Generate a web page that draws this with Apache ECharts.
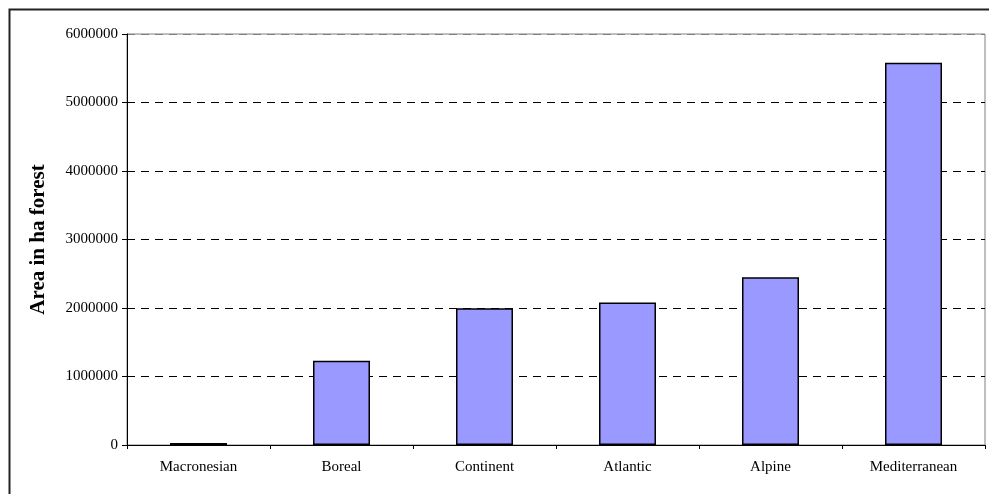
<!DOCTYPE html>
<html>
<head>
<meta charset="utf-8">
<script src="https://cdn.jsdelivr.net/npm/echarts@6/dist/echarts.min.js"></script>
<style>html,body{margin:0;padding:0;background:#fff;}#c{width:989px;height:494px;}</style>
</head>
<body>
<div id="c"></div>
<script>
var categories = ['Macronesian', 'Boreal', 'Continent', 'Atlantic', 'Alpine', 'Mediterranean'];
var areaValues = [28000, 1230000, 1995000, 2080000, 2450000, 5580000];
var yTicks = [0, 1000000, 2000000, 3000000, 4000000, 5000000, 6000000];

var chart = echarts.init(document.getElementById('c'));
var serif = '"Liberation Serif", "Times New Roman", serif';
chart.setOption({
  animation: false,
  backgroundColor: '#fff',
  graphic: [{
    type: 'rect', left: 7, top: 7, z: -10, silent: true,
    shape: { width: 1100, height: 600 },
    style: { fill: 'none', stroke: '#222', lineWidth: 2 }
  }],
  grid: { left: 127, right: 4, top: 34, bottom: 49, show: true, borderColor: '#808080', borderWidth: 1, backgroundColor: '#fff' },
  xAxis: {
    type: 'category',
    data: categories,
    boundaryGap: true,
    axisLine: { lineStyle: { color: '#000', width: 1 } },
    axisTick: { show: true, alignWithLabel: false, length: 4, lineStyle: { color: '#000' } },
    axisLabel: { color: '#000', fontFamily: serif, fontSize: 15, margin: 15 }
  },
  yAxis: {
    type: 'value',
    min: yTicks[0],
    max: yTicks[yTicks.length - 1],
    interval: yTicks[1] - yTicks[0],
    name: 'Area in ha forest',
    nameLocation: 'middle',
    nameRotate: 90,
    nameGap: 78,
    nameTextStyle: { color: '#000', fontFamily: serif, fontSize: 21, fontWeight: 'bold' },
    axisLine: { show: true, lineStyle: { color: '#000', width: 1 } },
    axisTick: { show: true, length: 5, lineStyle: { color: '#000' } },
    axisLabel: { color: '#000', fontFamily: serif, fontSize: 15, margin: 9, formatter: function (v) { return String(v); } },
    splitLine: { show: true, lineStyle: { color: ['#000', '#000', '#000', '#000', '#000', '#000', '#808080'], width: 1, type: [8, 6] } }
  },
  series: [{
    type: 'bar',
    data: areaValues,
    barWidth: 57,
    itemStyle: { color: '#9999FF', borderColor: '#000', borderWidth: 1.5 }
  }]
});
</script>
</body>
</html>
